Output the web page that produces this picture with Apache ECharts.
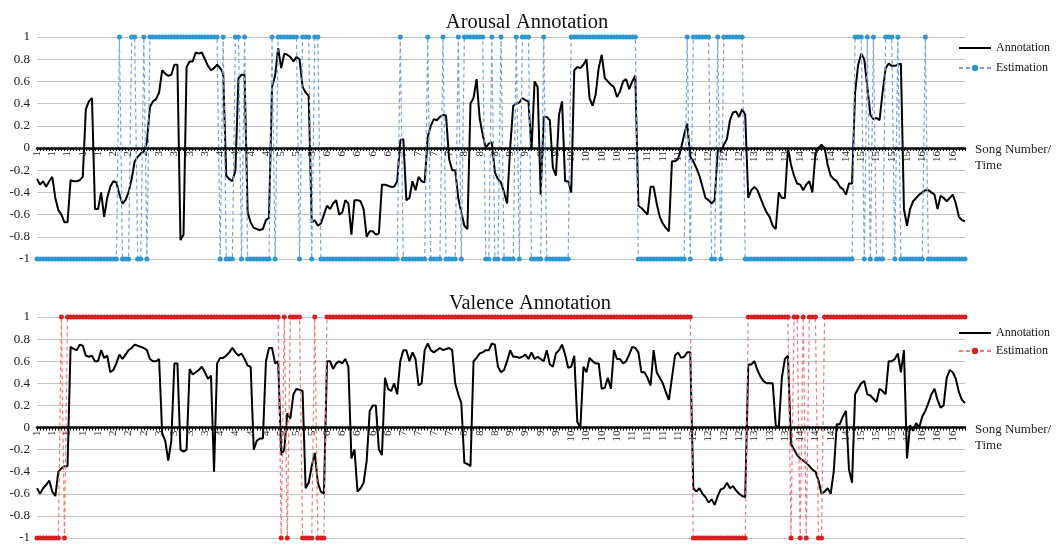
<!DOCTYPE html>
<html><head><meta charset="utf-8">
<script src="https://cdn.jsdelivr.net/npm/echarts@6/dist/echarts.min.js"></script>
<style>html,body{margin:0;padding:0;background:#fff}#c{width:1056px;height:545px}</style>
</head><body><div id="c"></div>
<script>
// Tick labels (song number), one every 5 time steps
const tickLabels = [
  '1','1','1','1','1','2','2','2','3','3','3','3','4','4','4','4',
  '5','5','5','6','6','6','6','6','7','7','7','7','8','8','8',
  '9','9','9','9','10','10','10','10','11','11','11','11','12','12','12','12',
  '13','13','13','14','14','14','14','15','15','15','15','16','16','16'
];

const arousalAnnotation = [
  -0.28,-0.33,-0.30,-0.35,-0.30,-0.26,-0.45,-0.56,-0.60,-0.67,
  -0.67,-0.29,-0.30,-0.30,-0.29,-0.26,0.35,0.42,0.45,-0.55,
  -0.55,-0.40,-0.62,-0.45,-0.35,-0.30,-0.31,-0.42,-0.50,-0.47,
  -0.40,-0.28,-0.12,-0.08,-0.05,-0.03,0.05,0.37,0.42,0.44,
  0.50,0.70,0.67,0.65,0.66,0.75,0.75,-0.83,-0.78,0.73,
  0.78,0.78,0.86,0.85,0.86,0.80,0.74,0.70,0.72,0.75,
  0.72,0.67,-0.25,-0.28,-0.30,-0.20,0.63,0.66,0.66,-0.58,
  -0.67,-0.72,-0.73,-0.74,-0.73,-0.65,-0.63,0.55,0.65,0.90,
  0.72,0.85,0.84,0.82,0.78,0.82,0.80,0.55,0.50,0.47,
  -0.67,-0.65,-0.70,-0.68,-0.60,-0.52,-0.55,-0.50,-0.47,-0.60,
  -0.58,-0.47,-0.50,-0.78,-0.47,-0.47,-0.48,-0.55,-0.80,-0.75,
  -0.75,-0.78,-0.77,-0.33,-0.33,-0.34,-0.35,-0.35,-0.30,0.07,
  0.08,-0.47,-0.45,-0.30,-0.38,-0.26,-0.30,-0.31,0.10,0.20,
  0.26,0.25,0.28,0.30,0.29,-0.10,-0.20,-0.20,-0.45,-0.58,
  -0.70,-0.73,0.40,0.45,0.62,0.27,0.12,0.00,0.04,0.05,
  -0.22,-0.28,-0.31,-0.40,-0.50,0.00,0.38,0.40,0.41,0.45,
  0.43,0.42,-0.02,0.60,0.55,-0.42,0.28,0.28,0.25,-0.18,
  -0.25,0.30,0.42,-0.30,-0.30,-0.40,0.70,0.73,0.72,0.75,
  0.80,0.45,0.38,0.48,0.72,0.84,0.63,0.60,0.57,0.55,
  0.46,0.51,0.60,0.62,0.53,0.60,0.65,-0.52,-0.54,-0.57,
  -0.60,-0.35,-0.35,-0.50,-0.62,-0.68,-0.72,-0.75,-0.12,-0.12,
  -0.10,0.00,0.12,0.22,-0.08,-0.12,-0.18,-0.25,-0.35,-0.45,
  -0.47,-0.50,-0.47,-0.02,-0.03,0.03,0.08,0.25,0.32,0.33,
  0.28,0.35,0.30,-0.45,-0.38,-0.35,-0.38,-0.45,-0.52,-0.58,
  -0.62,-0.70,-0.73,-0.40,-0.45,-0.45,0.00,-0.15,-0.25,-0.32,
  -0.33,-0.38,-0.33,-0.30,-0.40,-0.05,0.00,0.03,0.00,-0.15,
  -0.25,-0.28,-0.30,-0.35,-0.37,-0.42,-0.32,-0.32,0.50,0.75,
  0.85,0.80,0.55,0.30,0.26,0.27,0.25,0.50,0.72,0.76,
  0.74,0.74,0.75,0.76,-0.55,-0.70,-0.55,-0.48,-0.45,-0.42,
  -0.40,-0.38,-0.38,-0.40,-0.42,-0.55,-0.43,-0.45,-0.48,-0.45,
  -0.42,-0.50,-0.62,-0.65,-0.66
];

const arousalEstimation = [
  -1,-1,-1,-1,-1,-1,-1,-1,-1,-1,
  -1,-1,-1,-1,-1,-1,-1,-1,-1,-1,
  -1,-1,-1,-1,-1,-1,-1,1,-1,-1,
  -1,1,1,-1,-1,1,-1,1,1,1,
  1,1,1,1,1,1,1,1,1,1,
  1,1,1,1,1,1,1,1,1,1,
  -1,1,-1,-1,-1,1,1,-1,1,-1,
  -1,-1,-1,-1,-1,-1,-1,1,-1,1,
  1,1,1,1,1,1,-1,1,1,1,
  -1,1,1,-1,-1,-1,-1,-1,-1,-1,
  -1,-1,-1,-1,-1,-1,-1,-1,-1,-1,
  -1,-1,-1,-1,-1,-1,-1,-1,-1,1,
  -1,-1,-1,-1,-1,-1,-1,-1,1,-1,
  -1,-1,-1,1,-1,-1,-1,-1,1,-1,
  1,1,1,1,1,1,1,-1,-1,1,
  -1,-1,1,-1,-1,-1,-1,1,-1,1,
  1,1,-1,-1,-1,-1,1,-1,-1,-1,
  -1,-1,-1,-1,-1,1,1,1,1,1,
  1,1,1,1,1,1,1,1,1,1,
  1,1,1,1,1,1,1,-1,-1,-1,
  -1,-1,-1,-1,-1,-1,-1,-1,-1,-1,
  -1,-1,-1,1,-1,1,1,1,1,1,
  1,-1,-1,1,-1,1,1,1,1,1,
  1,1,-1,-1,-1,-1,-1,-1,-1,-1,
  -1,-1,-1,-1,-1,-1,-1,-1,-1,-1,
  -1,-1,-1,-1,-1,-1,-1,-1,-1,-1,
  -1,-1,-1,-1,-1,-1,-1,-1,1,1,
  1,-1,1,-1,1,-1,-1,-1,1,1,
  1,-1,1,-1,-1,-1,-1,-1,-1,-1,
  -1,1,-1,-1,-1,-1,-1,-1,-1,-1,
  -1,-1,-1,-1,-1
];

const valenceAnnotation = [
  -0.55,-0.60,-0.55,-0.52,-0.48,-0.58,-0.62,-0.40,-0.37,-0.35,
  -0.35,0.73,0.71,0.70,0.75,0.74,0.65,0.64,0.65,0.60,
  0.60,0.70,0.63,0.65,0.50,0.52,0.58,0.66,0.62,0.66,
  0.70,0.72,0.75,0.74,0.73,0.72,0.70,0.62,0.60,0.60,
  0.62,-0.05,-0.12,-0.30,-0.12,0.58,0.58,-0.20,-0.22,-0.20,
  0.53,0.48,0.50,0.52,0.55,0.50,0.44,0.47,-0.40,0.58,
  0.63,0.63,0.65,0.68,0.72,0.68,0.65,0.67,0.62,0.56,
  0.55,-0.20,-0.12,-0.10,-0.10,0.60,0.72,0.72,0.58,0.60,
  -0.25,-0.20,0.13,0.08,0.30,0.35,0.34,0.33,-0.55,-0.50,
  -0.35,-0.23,-0.50,-0.58,-0.60,0.60,0.60,0.53,0.58,0.60,
  0.58,0.62,0.55,-0.28,-0.20,-0.58,-0.55,-0.50,-0.30,0.15,
  0.20,0.20,-0.20,-0.25,0.45,0.35,0.33,0.40,0.30,0.60,
  0.70,0.70,0.60,0.68,0.62,0.38,0.40,0.70,0.76,0.70,
  0.68,0.70,0.72,0.70,0.71,0.72,0.70,0.40,0.30,0.22,
  -0.32,-0.33,-0.35,0.60,0.63,0.67,0.68,0.70,0.70,0.76,
  0.75,0.55,0.50,0.52,0.60,0.70,0.64,0.64,0.63,0.64,
  0.66,0.62,0.68,0.62,0.64,0.62,0.60,0.70,0.57,0.55,
  0.67,0.70,0.75,0.66,0.54,0.55,0.65,0.05,0.00,0.55,
  0.50,0.63,0.60,0.58,0.58,0.35,0.36,0.45,0.35,0.70,
  0.62,0.62,0.58,0.60,0.66,0.73,0.72,0.68,0.50,0.50,
  0.45,0.38,0.70,0.50,0.45,0.40,0.32,0.25,0.45,0.65,
  0.68,0.63,0.64,0.68,0.68,-0.55,-0.58,-0.55,-0.60,-0.63,
  -0.68,-0.65,-0.70,-0.62,-0.56,-0.55,-0.50,-0.55,-0.53,-0.57,
  -0.60,-0.62,-0.63,0.57,0.57,0.60,0.52,0.46,0.42,0.40,
  0.40,0.40,0.02,0.00,0.45,0.62,0.65,-0.15,-0.20,-0.25,
  -0.28,-0.30,-0.32,-0.35,-0.38,-0.40,-0.48,-0.60,-0.58,-0.55,
  -0.60,-0.40,0.03,0.03,0.10,0.15,-0.38,-0.50,0.30,0.35,
  0.40,0.42,0.30,0.29,0.26,0.23,0.35,0.33,0.30,0.60,
  0.60,0.62,0.67,0.50,0.70,-0.28,0.02,-0.03,0.04,0.00,
  0.10,0.15,0.22,0.30,0.35,0.25,0.18,0.20,0.45,0.52,
  0.50,0.44,0.32,0.25,0.22
];

const valenceEstimation = [
  -1,-1,-1,-1,-1,-1,-1,-1,1,-1,
  1,1,1,1,1,1,1,1,1,1,
  1,1,1,1,1,1,1,1,1,1,
  1,1,1,1,1,1,1,1,1,1,
  1,1,1,1,1,1,1,1,1,1,
  1,1,1,1,1,1,1,1,1,1,
  1,1,1,1,1,1,1,1,1,1,
  1,1,1,1,1,1,1,1,1,1,
  -1,1,-1,1,1,1,1,-1,-1,-1,
  -1,1,-1,-1,-1,1,1,1,1,1,
  1,1,1,1,1,1,1,1,1,1,
  1,1,1,1,1,1,1,1,1,1,
  1,1,1,1,1,1,1,1,1,1,
  1,1,1,1,1,1,1,1,1,1,
  1,1,1,1,1,1,1,1,1,1,
  1,1,1,1,1,1,1,1,1,1,
  1,1,1,1,1,1,1,1,1,1,
  1,1,1,1,1,1,1,1,1,1,
  1,1,1,1,1,1,1,1,1,1,
  1,1,1,1,1,1,1,1,1,1,
  1,1,1,1,1,1,1,1,1,1,
  1,1,1,1,1,-1,-1,-1,-1,-1,
  -1,-1,-1,-1,-1,-1,-1,-1,-1,-1,
  -1,-1,-1,1,1,1,1,1,1,1,
  1,1,1,1,1,1,1,-1,1,1,
  -1,1,-1,1,1,1,-1,-1,1,1,
  1,1,1,1,1,1,1,1,1,1,
  1,1,1,1,1,1,1,1,1,1,
  1,1,1,1,1,1,1,1,1,1,
  1,1,1,1,1,1,1,1,1,1,
  1,1,1,1,1
];

const SERIF = '"Liberation Serif","Times New Roman",serif';
const steps = arousalAnnotation.map((_, i) => String(i));
const labelFmt = (v, idx) => (idx % 5 === 0 ? (tickLabels[idx / 5] || '') : '');

function xAxisFor(gi, off) {
  return {
    type: 'category', gridIndex: gi, data: steps, boundaryGap: false,
    position: 'bottom', offset: off, z: 5,
    axisLine: { onZero: false, lineStyle: { color: '#000', width: 2.5 } },
    axisTick: { show: true, interval: 0, length: 3, lineStyle: { color: '#000', width: 1 } },
    axisLabel: { interval: 4, rotate: 90, fontSize: 11, fontFamily: SERIF, color: '#222', margin: 3, formatter: labelFmt },
    splitLine: { show: false },
    name: 'Song Number/\nTime', nameLocation: 'end', nameGap: 10,
    nameTextStyle: { fontFamily: SERIF, fontSize: 13, color: '#222', lineHeight: 16, align: 'left', verticalAlign: 'top', padding: [-6, 0, 0, 0] }
  };
}
function yAxisFor(gi) {
  return {
    type: 'value', gridIndex: gi, min: -1, max: 1, interval: 0.2,
    axisLine: { show: false }, axisTick: { show: false },
    splitLine: { lineStyle: { color: '#c4c4c4', width: 1 } },
    axisLabel: { fontFamily: SERIF, fontSize: 13, color: '#222', margin: 7,
      formatter: v => String(Math.round(v * 10) / 10) }
  };
}

const plainLine = { color: 'rgba(0,0,0,0)', borderWidth: 0 };
const legendText = { fontFamily: SERIF, fontSize: 12, color: '#111' };

const chart = echarts.init(document.getElementById('c'), null, { renderer: 'canvas' });
chart.setOption({
  animation: false,
  backgroundColor: '#fff',
  title: [
    { text: 'Arousal Annotation', left: 522, top: 7, textAlign: 'center',
      textStyle: { fontFamily: SERIF, fontSize: 20.5, fontWeight: 'normal', color: '#111' } },
    { text: 'Valence Annotation', left: 525, top: 288, textAlign: 'center',
      textStyle: { fontFamily: SERIF, fontSize: 20.5, fontWeight: 'normal', color: '#111' } }
  ],
  legend: [
    { data: [{ name: 'Annotation', itemStyle: plainLine }, 'Estimation'], orient: 'vertical', left: 953, top: 37,
      itemWidth: 32, itemHeight: 8, itemGap: 8, textStyle: legendText },
    { data: [{ name: 'Annotation ', itemStyle: plainLine }, 'Estimation '], orient: 'vertical', left: 953, top: 322,
      itemWidth: 32, itemHeight: 8, itemGap: 6, textStyle: legendText }
  ],
  grid: [
    { left: 37, right: 91, top: 37, height: 222 },
    { left: 37, right: 91, top: 317, height: 221 }
  ],
  xAxis: [xAxisFor(0, -111), xAxisFor(1, -110.5)],
  yAxis: [yAxisFor(0), yAxisFor(1)],
  series: [
    { name: 'Annotation', type: 'line', xAxisIndex: 0, yAxisIndex: 0, data: arousalAnnotation,
      symbol: 'none', lineStyle: { color: '#000', width: 2 }, itemStyle: { color: '#000' }, z: 3 },
    { name: 'Estimation', type: 'line', xAxisIndex: 0, yAxisIndex: 0, data: arousalEstimation,
      symbol: 'circle', symbolSize: 5, showAllSymbol: true,
      lineStyle: { color: '#7ea3d4', width: 1.2, type: [4, 3] }, itemStyle: { color: '#2f97d0' }, z: 4 },
    { name: 'Annotation ', type: 'line', xAxisIndex: 1, yAxisIndex: 1, data: valenceAnnotation,
      symbol: 'none', lineStyle: { color: '#000', width: 2 }, itemStyle: { color: '#000' }, z: 3 },
    { name: 'Estimation ', type: 'line', xAxisIndex: 1, yAxisIndex: 1, data: valenceEstimation,
      symbol: 'circle', symbolSize: 5, showAllSymbol: true,
      lineStyle: { color: '#f27b7b', width: 1.2, type: [4, 3] }, itemStyle: { color: '#d42020' }, z: 4 }
  ]
});
</script>
</body></html>
